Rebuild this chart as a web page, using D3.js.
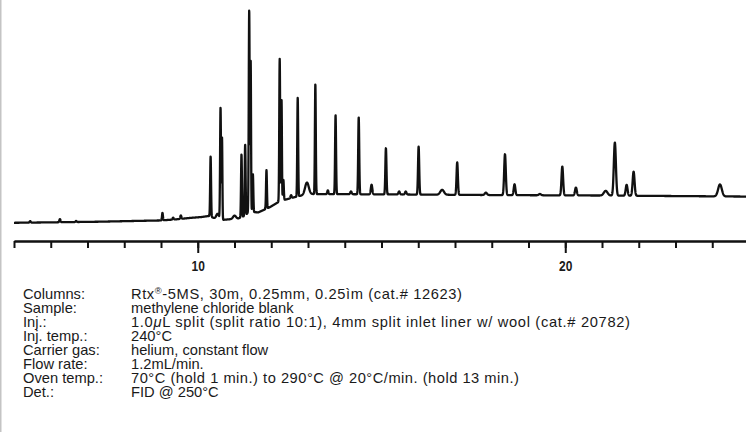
<!DOCTYPE html>
<html><head><meta charset="utf-8">
<script src="https://cdn.jsdelivr.net/npm/d3@7"></script>
<style>body{margin:0;background:#fff}svg{display:block}</style>
</head><body><svg id="c" width="746" height="432"></svg>
<script>
// Retention-time axis (minutes)
const minorTicks = [5,6,7,8,9,10,11,12,13,14,15,16,17,18,19,20,21,22,23,24,25];
const majorTicks = [10, 20];

// Baseline (time, response)
const baselineTimes  = [5.0, 6.0, 7.3, 8.4, 9.0, 9.4, 9.8, 10.1, 10.3, 10.45, 10.7, 11.1, 11.3, 11.38, 11.65, 11.97, 12.24, 12.65, 13.0, 15.5, 18.2, 21.0, 25.0];
const baselineValues = [0.1, 0.3, 0.6, 1.0, 1.2, 1.7, 2.4, 2.8, 3.3, 2.3, 1.5, 2.1, 3.5, 5.2, 5.0, 7.5, 10.3, 12.2, 13.6, 13.4, 13.1, 12.9, 12.4];

// Peaks: retention time, height above baseline, width (sigma, min)
const peakTimes   = [5.44, 6.25, 6.69, 9.04, 9.33, 9.54, 10.35, 10.54, 10.62, 10.66, 11.00, 11.19, 11.29, 11.40, 11.44, 11.50, 11.87, 12.23, 12.28, 12.33, 12.54, 12.72, 12.97, 13.20, 13.54, 13.75, 14.17, 14.38, 14.73, 15.12, 15.48, 15.66, 16.01, 16.65, 17.06, 17.84, 18.36, 18.62, 19.31, 19.92, 20.29, 21.10, 21.35, 21.67, 21.86, 24.21];
const peakHeights = [0.7, 1.5, 0.5, 3.5, 0.9, 1.6, 28.3, 2.3, 52.3, 38.5, 1.5, 29.5, 33.3, 94.8, 71.0, 17.8, 18.1, 66.9, 47.4, 9.6, 1.4, 46.4, 5.5, 51.6, 1.8, 37.1, 1.3, 36.1, 4.5, 21.7, 1.4, 1.4, 22.5, 2.3, 15.2, 1.1, 19.2, 5.1, 0.6, 13.5, 3.7, 2.2, 24.9, 5.1, 11.3, 5.6];
const peakWidths  = [0.015, 0.015, 0.015, 0.012, 0.015, 0.015, 0.012, 0.035, 0.012, 0.010, 0.04, 0.012, 0.012, 0.012, 0.010, 0.012, 0.012, 0.012, 0.010, 0.012, 0.015, 0.012, 0.05, 0.012, 0.015, 0.013, 0.02, 0.014, 0.02, 0.015, 0.02, 0.02, 0.016, 0.05, 0.018, 0.03, 0.022, 0.022, 0.03, 0.022, 0.024, 0.05, 0.028, 0.025, 0.026, 0.05];

// Conditions text
const infoLabels = ["Columns:", "Sample:", "Inj.:", "Inj. temp.:", "Carrier gas:", "Flow rate:", "Oven temp.:", "Det.:"];
const infoValues = [
  [["Rtx", ""], ["®", "sup"], ["-5MS, 30m, 0.25mm, 0.25ìm (cat.# 12623)", "after"]],
  [["methylene chloride blank", ""]],
  [["1.0", ""], ["μ", "it"], ["L split (split ratio 10:1), 4mm split inlet liner w/ wool (cat.# 20782)", ""]],
  [["240°C", ""]],
  [["helium, constant flow", ""]],
  [["1.2mL/min.", ""]],
  [["70°C (hold 1 min.) to 290°C @ 20°C/min. (hold 13 min.)", ""]],
  [["FID @ 250°C", ""]]
];
// layout: rendered widths of the longer value lines (px)
const valueWidths = [331, null, 499, null, null, null, 388, null];

const svg = d3.select("#c");
svg.append("rect").attr("x",0).attr("y",0).attr("width",1.5).attr("height",432).attr("fill","#c4c4c4");

const x = d3.scaleLinear().domain([5, 25]).range([14, 749]);
const y = d3.scaleLinear().domain([0, 100]).range([223, 10]);
const base = d3.scaleLinear().domain(baselineTimes).range(baselineValues).clamp(true);

const ts = d3.range(5.0, 25.0001, 0.003);
const trace = ts.map(t => {
  let v = base(t);
  for (let i = 0; i < peakTimes.length; i++) {
    const d = (t - peakTimes[i]) / peakWidths[i];
    if (Math.abs(d) < 8) v += peakHeights[i] * Math.exp(-0.5 * d * d);
  }
  return [t, v];
});

svg.append("path")
  .datum(trace)
  .attr("fill","none").attr("stroke","#111").attr("stroke-width",2.3)
  .attr("stroke-linejoin","round")
  .attr("d", d3.line().x(d => x(d[0])).y(d => y(d[1])));

// Axis
const axisY = 241;
const gMinor = svg.append("g").attr("transform",`translate(0,${axisY})`)
  .call(d3.axisBottom(x).tickValues(minorTicks).tickSize(7).tickSizeOuter(0).tickFormat(""));
const gMajor = svg.append("g").attr("transform",`translate(0,${axisY})`)
  .call(d3.axisBottom(x).tickValues(majorTicks).tickSize(12).tickSizeOuter(0).tickPadding(7).tickFormat(d3.format("d")));
[gMinor, gMajor].forEach(g => {
  g.select(".domain").attr("stroke","#111").attr("stroke-width",2.2);
  g.selectAll(".tick line").attr("stroke","#111").attr("stroke-width",2);
});
gMajor.selectAll(".tick text")
  .attr("fill","#1a1a1a").attr("font-family","'Liberation Sans', Arial, sans-serif")
  .attr("font-size",15).attr("font-weight","bold")
  .attr("transform","scale(0.8,1)");

// Conditions block
const fontFam = "'Liberation Sans', Arial, sans-serif";
const sx = 1.05;
infoLabels.forEach((lab, i) => {
  const yy = 298.5 + i * 14.1;
  svg.append("text").attr("transform",`translate(23,${yy}) scale(${sx},1)`)
    .attr("font-family",fontFam).attr("font-size",14).attr("fill","#1a1a1a").text(lab);
  const t = svg.append("text").attr("transform",`translate(131,${yy}) scale(${sx},1)`)
    .attr("font-family",fontFam).attr("font-size",14).attr("fill","#1a1a1a");
  if (valueWidths[i]) t.attr("textLength", valueWidths[i] / sx).attr("lengthAdjust","spacing");
  infoValues[i].forEach(([s, kind]) => {
    const sp = t.append("tspan").text(s);
    if (kind === "sup") sp.attr("font-size",9).attr("dy",-5);
    else if (kind === "after") sp.attr("dy",5);
    else if (kind === "it") sp.attr("font-style","italic");
  });
});
</script></body></html>
